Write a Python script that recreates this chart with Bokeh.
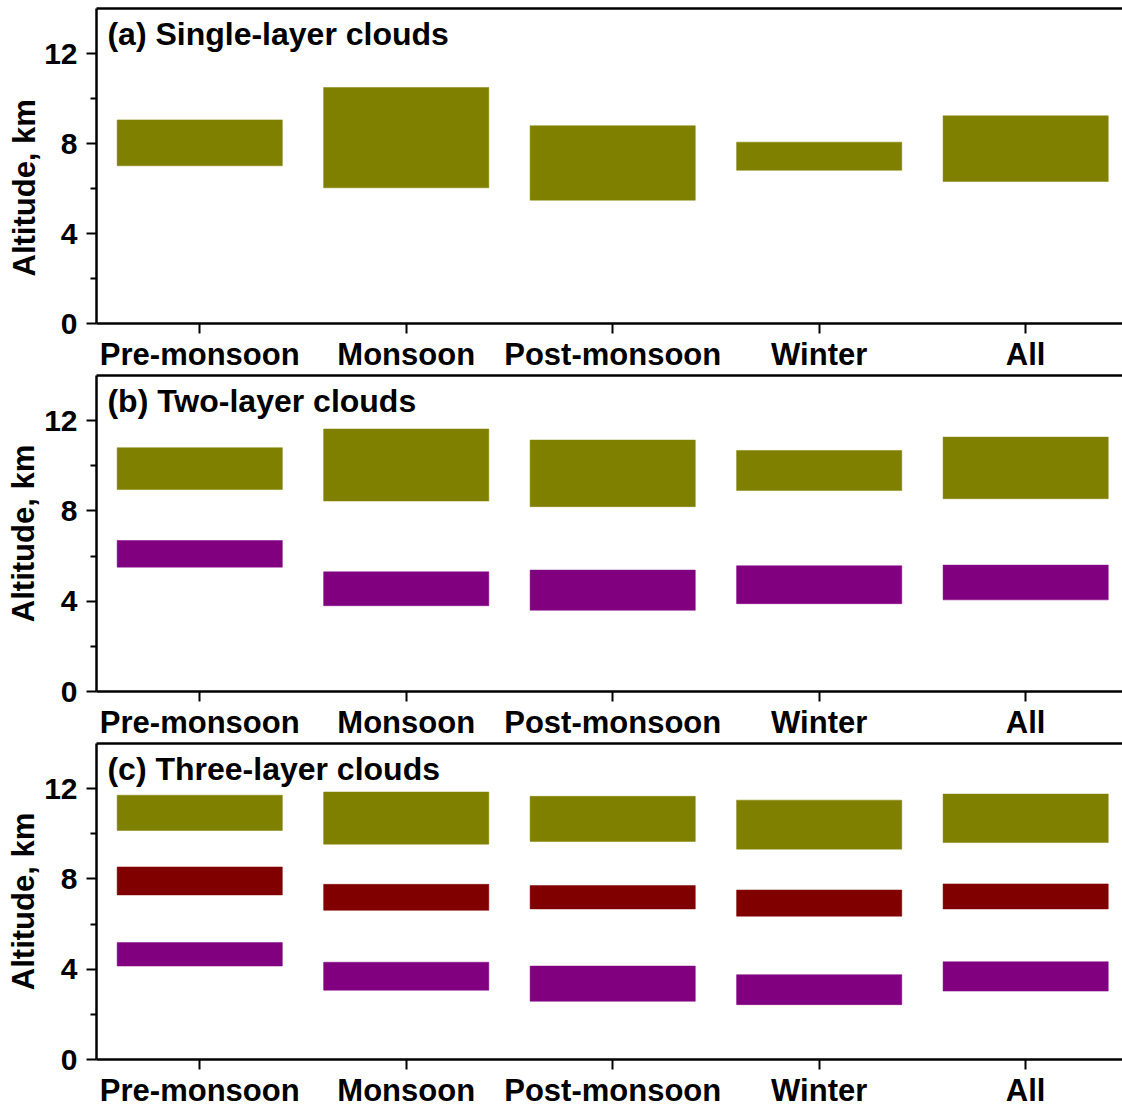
from bokeh.plotting import figure
from bokeh.layouts import column
from bokeh.models import Range1d, FixedTicker, LinearAxis, Label, Title
from bokeh.embed import file_html
from bokeh.resources import INLINE

# Seasons on the x axis
seasons = ["Pre-monsoon", "Monsoon", "Post-monsoon", "Winter", "All"]

# (a) single-layer clouds: cloud top / cloud base altitude (km)
single_top = [9.05, 10.49, 8.79, 8.06, 9.23]
single_base = [7.01, 6.03, 5.48, 6.81, 6.31]

# (b) two-layer clouds
two_upper_top = [10.80, 11.63, 11.14, 10.68, 11.27]
two_upper_base = [8.95, 8.44, 8.19, 8.91, 8.54]
two_lower_top = [6.69, 5.30, 5.38, 5.57, 5.60]
two_lower_base = [5.51, 3.80, 3.60, 3.89, 4.06]

# (c) three-layer clouds
three_upper_top = [11.71, 11.85, 11.66, 11.49, 11.76]
three_upper_base = [10.15, 9.54, 9.66, 9.32, 9.61]
three_middle_top = [8.53, 7.76, 7.71, 7.51, 7.78]
three_middle_base = [7.29, 6.61, 6.67, 6.35, 6.67]
three_lower_top = [5.18, 4.31, 4.14, 3.76, 4.33]
three_lower_base = [4.14, 3.07, 2.58, 2.43, 3.03]

y_ticks = [0, 4, 8, 12]
y_minor = [2, 6, 10]

OLIVE = "#808000"
MAROON = "#800000"
PURPLE = "#800080"
FONT = "Liberation Sans"
Y_LABEL = "Altitude, km"

xpos = list(range(len(seasons)))


def make_panel(title, layers, height, top_border, bottom_border, ylabel_offset=None):
    p = figure(width=1122, height=height,
               x_range=Range1d(-0.5, 4.469), y_range=Range1d(0, 14),
               output_backend="svg", toolbar_location=None,
               min_border_left=96, min_border_right=0,
               min_border_top=top_border, min_border_bottom=bottom_border,
               outline_line_color=None,
               background_fill_color="white", border_fill_color="white")
    p.xgrid.visible = False
    p.ygrid.visible = False

    for base, top, color in layers:
        p.vbar(x=xpos, width=0.8, bottom=base, top=top,
               fill_color=color, line_color=color, line_width=0.5)

    # y axis
    ya = p.yaxis[0]
    ya.ticker = FixedTicker(ticks=y_ticks, minor_ticks=y_minor)
    if ylabel_offset is None:
        ya.axis_label = Y_LABEL
        ya.axis_label_text_font = FONT
        ya.axis_label_text_font_style = "bold"
        ya.axis_label_text_font_size = "31px"
        ya.axis_label_text_color = "black"
        ya.axis_label_standoff = 0
    else:
        # axis title shifted along the axis
        p.add_layout(Title(text=Y_LABEL, align="left", offset=ylabel_offset,
                           text_font=FONT, text_font_style="bold",
                           text_font_size="31px", text_color="black",
                           standoff=0), "left")
    ya.major_label_text_font = FONT
    ya.major_label_text_font_style = "bold"
    ya.major_label_text_font_size = "30px"
    ya.major_label_text_color = "black"
    ya.major_label_standoff = 9
    ya.axis_line_width = 2.5
    ya.major_tick_line_width = 2
    ya.minor_tick_line_width = 2
    ya.major_tick_out = 10
    ya.major_tick_in = 0
    ya.minor_tick_out = 6
    ya.minor_tick_in = 0

    # x axis with season names
    xa = p.xaxis[0]
    xa.ticker = FixedTicker(ticks=xpos, minor_ticks=[])
    xa.major_label_overrides = {i: s for i, s in enumerate(seasons)}
    xa.major_label_text_font = FONT
    xa.major_label_text_font_style = "bold"
    xa.major_label_text_font_size = "31px"
    xa.major_label_text_color = "black"
    xa.major_label_standoff = 3
    xa.axis_line_width = 2.5
    xa.major_tick_line_width = 2
    xa.major_tick_out = 10
    xa.major_tick_in = 0
    xa.minor_tick_line_color = None

    # plain top frame line
    top_axis = LinearAxis(ticker=FixedTicker(ticks=[]),
                          major_tick_line_color=None, minor_tick_line_color=None,
                          major_tick_out=0, minor_tick_out=0,
                          major_label_text_font_size="0px",
                          axis_line_width=2.5)
    p.add_layout(top_axis, "above")

    p.add_layout(Label(x=-0.447, y=12.85, text=title, text_font=FONT,
                       text_font_style="bold", text_font_size="32px",
                       text_color="black", text_baseline="alphabetic"))
    return p


pa = make_panel("(a) Single-layer clouds",
                [(single_base, single_top, OLIVE)], 374, 8, 50, ylabel_offset=47)
pb = make_panel("(b) Two-layer clouds",
                [(two_upper_base, two_upper_top, OLIVE),
                 (two_lower_base, two_lower_top, PURPLE)], 368, 1, 50)
pc = make_panel("(c) Three-layer clouds",
                [(three_upper_base, three_upper_top, OLIVE),
                 (three_middle_base, three_middle_top, MAROON),
                 (three_lower_base, three_lower_top, PURPLE)], 368, 1, 50)

layout = column(pa, pb, pc, spacing=0)

open("out.html", "w").write(file_html(layout, INLINE))
